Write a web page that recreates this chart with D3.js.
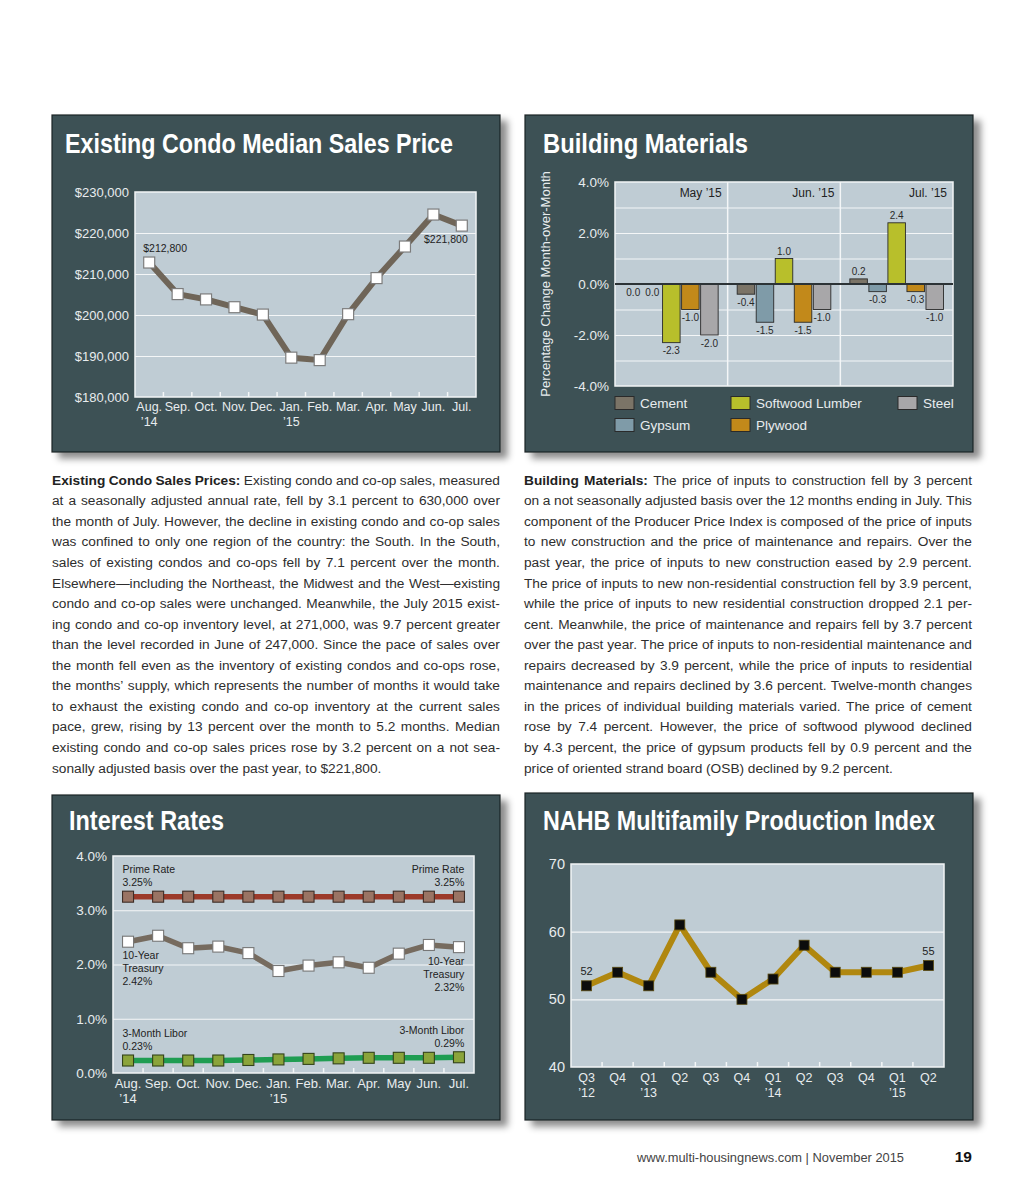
<!DOCTYPE html>
<html><head><meta charset="utf-8">
<script src="https://cdn.jsdelivr.net/npm/d3@7"></script>
<style>
body{margin:0;background:#fff;width:1024px;height:1195px;overflow:hidden;position:relative;font-family:"Liberation Sans",Arial,Helvetica,sans-serif;}
svg{position:absolute;left:0;top:0;}
.para{position:absolute;width:448px;font-size:13.7px;color:#2e2e2e;}
.ln{display:flex;justify-content:space-between;height:20.57px;line-height:20.57px;white-space:nowrap;}
.ln.last{justify-content:flex-start;}
.ln.last span{margin-right:0.27em;}
.ln b{font-weight:bold;color:#222;}
</style></head><body>
<svg id="chart" width="1024" height="1195"></svg>
<div id="pl" class="para" style="left:52px;top:470.7px"></div>
<div id="pr" class="para" style="left:524px;top:470.7px"></div>
<script>
// ---------- DATA ----------
const months = ["Aug.","Sep.","Oct.","Nov.","Dec.","Jan.","Feb.","Mar.","Apr.","May","Jun.","Jul."];
const monthYears = ["’14","","","","","’15","","","","","",""];
const condoPrice = [212800,205100,203800,201900,200100,189600,189000,200200,209000,216700,224500,221800];
const condoTicks = [180000,190000,200000,210000,220000,230000];

const bmGroups = ["May ’15","Jun. ’15","Jul. ’15"];
const bmSeries = ["Cement","Gypsum","Softwood Lumber","Plywood","Steel"];
const cement   = [0.0,-0.4, 0.2];
const gypsum   = [0.0,-1.5,-0.3];
const softwood = [-2.3, 1.0, 2.4];
const plywood  = [-1.0,-1.5,-0.3];
const steel    = [-2.0,-1.0,-1.0];
const bmTicks = [-4,-2,0,2,4];

const primeRate  = [3.25,3.25,3.25,3.25,3.25,3.25,3.25,3.25,3.25,3.25,3.25,3.25];
const treasury10 = [2.42,2.53,2.30,2.33,2.21,1.88,1.98,2.04,1.94,2.20,2.36,2.32];
const libor3m    = [0.23,0.23,0.23,0.23,0.24,0.25,0.26,0.27,0.28,0.28,0.28,0.29];
const rateTicks = [0,1,2,3,4];

const quarters = ["Q3","Q4","Q1","Q2","Q3","Q4","Q1","Q2","Q3","Q4","Q1","Q2"];
const quarterYears = ["’12","","’13","","","","’14","","","","’15",""];
const mfpi = [52,54,52,61,54,50,53,58,54,54,54,55];
const mfpiTicks = [40,50,60,70];

const leftLead = "Existing Condo Sales Prices:";
const leftLines = [
"Existing condo and co-op sales, measured",
"at a seasonally adjusted annual rate, fell by 3.1 percent to 630,000 over",
"the month of July. However, the decline in existing condo and co-op sales",
"was confined to only one region of the country: the South. In the South,",
"sales of existing condos and co-ops fell by 7.1 percent over the month.",
"Elsewhere—including the Northeast, the Midwest and the West—existing",
"condo and co-op sales were unchanged. Meanwhile, the July 2015 exist-",
"ing condo and co-op inventory level, at 271,000, was 9.7 percent greater",
"than the level recorded in June of 247,000. Since the pace of sales over",
"the month fell even as the inventory of existing condos and co-ops rose,",
"the months’ supply, which represents the number of months it would take",
"to exhaust the existing condo and co-op inventory at the current sales",
"pace, grew, rising by 13 percent over the month to 5.2 months. Median",
"existing condo and co-op sales prices rose by 3.2 percent on a not sea-",
"sonally adjusted basis over the past year, to $221,800."];
const rightLead = "Building Materials:";
const rightLines = [
"The price of inputs to construction fell by 3 percent",
"on a not seasonally adjusted basis over the 12 months ending in July. This",
"component of the Producer Price Index is composed of the price of inputs",
"to new construction and the price of maintenance and repairs. Over the",
"past year, the price of inputs to new construction eased by 2.9 percent.",
"The price of inputs to new non-residential construction fell by 3.9 percent,",
"while the price of inputs to new residential construction dropped 2.1 per-",
"cent. Meanwhile, the price of maintenance and repairs fell by 3.7 percent",
"over the past year. The price of inputs to non-residential maintenance and",
"repairs decreased by 3.9 percent, while the price of inputs to residential",
"maintenance and repairs declined by 3.6 percent. Twelve-month changes",
"in the prices of individual building materials varied. The price of cement",
"rose by 7.4 percent. However, the price of softwood plywood declined",
"by 4.3 percent, the price of gypsum products fell by 0.9 percent and the",
"price of oriented strand board (OSB) declined by 9.2 percent."];

// ---------- STYLE ----------
const FONT = "'Liberation Sans', Arial, Helvetica, sans-serif";
const PANEL_FILL = "#3e5155";
const PLOT_FILL = "#bfccd4";
const LIGHT = "#e8ecee";
const DARK = "#222";
const bmColors = ["#7b7467","#7f9ba8","#b8bf2b","#c2891a","#a8a7a9"];

const svg = d3.select("#chart");
const defs = svg.append("defs");
const flt = defs.append("filter").attr("id","shadow").attr("x","-5%").attr("y","-5%").attr("width","115%").attr("height","115%");
flt.append("feDropShadow").attr("dx",7).attr("dy",6).attr("stdDeviation",3.5).attr("flood-color","#000").attr("flood-opacity",0.45);

function panel(px,py,pw,ph,title,tx,tb,tw){
  svg.append("rect").attr("x",px).attr("y",py).attr("width",pw).attr("height",ph)
    .attr("fill",PANEL_FILL).attr("stroke","#1b2326").attr("stroke-width",1.2).attr("filter","url(#shadow)");
  svg.append("text").attr("x",tx).attr("y",tb).attr("font-family",FONT).attr("font-weight","bold")
    .attr("font-size",28).attr("fill","#fff").attr("textLength",tw).attr("lengthAdjust","spacingAndGlyphs").text(title);
}
function frame(x0,x1,y0,y1){
  svg.append("rect").attr("x",x0).attr("y",y0).attr("width",x1-x0).attr("height",y1-y0)
    .attr("fill",PLOT_FILL);
}
function border(x0,x1,y0,y1){
  svg.append("rect").attr("x",x0).attr("y",y0).attr("width",x1-x0).attr("height",y1-y0)
    .attr("fill","none").attr("stroke","#f2f5f6").attr("stroke-width",1.5);
}
function grid(y,x0,x1,vals,color,w){
  const g = svg.append("g").attr("transform",`translate(${x0},0)`)
    .call(d3.axisLeft(y).tickValues(vals).tickSize(-(x1-x0)).tickFormat(""));
  g.select(".domain").remove();
  g.selectAll(".tick line").attr("stroke",color||"#f4f6f7").attr("stroke-width",w||1.2);
  return g;
}
function yLabels(y,x0,vals,fmt,size){
  const g = svg.append("g").attr("transform",`translate(${x0},0)`)
    .call(d3.axisLeft(y).tickValues(vals).tickSize(0).tickPadding(6).tickFormat(fmt));
  g.select(".domain").remove();
  g.attr("font-family",FONT).attr("font-size",size).attr("color",LIGHT);
  return g;
}
function xLabels(x,y1,names,years,size,pad,gap){
  const g = svg.append("g").attr("transform",`translate(0,${y1})`)
    .call(d3.axisBottom(x).tickSize(0).tickPadding(pad).tickFormat(i=>names[i]));
  g.select(".domain").remove();
  g.attr("font-family",FONT).attr("font-size",size).attr("color",LIGHT);
  g.selectAll(".tick").append("text").attr("fill",LIGHT).attr("y",pad+gap).attr("dy","0.71em")
    .text(i=>years[i]);
  return g;
}
function bandTicks(x,n,y1){
  svg.append("g").selectAll("line").data(d3.range(1,n)).join("line")
    .attr("x1",i=>x(i)).attr("x2",i=>x(i)).attr("y1",y1).attr("y2",y1-5)
    .attr("stroke","#f4f6f7").attr("stroke-width",1.5);
}

// ---------- PANEL 1: Condo ----------
panel(52,115,448,337,"Existing Condo Median Sales Price",65,152.7,388);
{
  const x0=135,x1=476,y0=192,y1=397;
  frame(x0,x1,y0,y1);
  const x = d3.scaleBand().domain(d3.range(months.length)).range([x0,x1]);
  const y = d3.scaleLinear().domain([180000,230000]).range([y1,y0]);
  const cx = i=>x(i)+x.bandwidth()/2;
  grid(y,x0,x1,condoTicks.slice(1,-1));
  bandTicks(x,months.length,y1);
  border(x0,x1,y0,y1);
  yLabels(y,x0,condoTicks,d3.format("$,"),13);
  xLabels(x,y1,months,monthYears,12.5,5.5,15);
  svg.append("path").datum(condoPrice).attr("fill","none").attr("stroke","#6f6558").attr("stroke-width",6)
    .attr("stroke-linejoin","round")
    .attr("d",d3.line().x((d,i)=>cx(i)).y(d=>y(d)));
  svg.append("g").selectAll("rect").data(condoPrice).join("rect")
    .attr("x",(d,i)=>cx(i)-5.5).attr("y",d=>y(d)-5.5).attr("width",11).attr("height",11)
    .attr("fill","#fff").attr("stroke","#7d7d7d").attr("stroke-width",1.2);
  const fmt = d3.format("$,");
  const n = condoPrice.length-1;
  svg.append("text").attr("x",cx(0)-6).attr("y",y(condoPrice[0])-10.5).attr("font-family",FONT).attr("font-size",10.5)
    .attr("fill",DARK).text(fmt(condoPrice[0]));
  svg.append("text").attr("x",cx(n)+6).attr("y",y(condoPrice[n])+17.5).attr("text-anchor","end").attr("font-family",FONT).attr("font-size",10.5)
    .attr("fill",DARK).text(fmt(condoPrice[n]));
}

// ---------- PANEL 2: Building Materials ----------
panel(525,115,448,337,"Building Materials",543,153,205);
{
  const x0=615,x1=953,y0=182,y1=386;
  frame(x0,x1,y0,y1);
  const xg = d3.scaleBand().domain(d3.range(bmGroups.length)).range([x0,x1]);
  const xs = d3.scaleBand().domain(d3.range(bmSeries.length)).range([0,xg.bandwidth()]).paddingInner(0.08).paddingOuter(0.5);
  const y = d3.scaleLinear().domain([-4,4]).range([y1,y0]);
  grid(y,x0,x1,[-3,-2,-1,1,2,3]);
  svg.append("g").selectAll("line").data(d3.range(1,bmGroups.length)).join("line")
    .attr("x1",i=>xg(i)).attr("x2",i=>xg(i)).attr("y1",y0).attr("y2",y1)
    .attr("stroke","#f4f6f7").attr("stroke-width",1.5);
  border(x0,x1,y0,y1);
  const seriesVals = [cement,gypsum,softwood,plywood,steel];
  const cells = [];
  seriesVals.forEach((vals,s)=>vals.forEach((v,gI)=>cells.push({s,g:gI,v})));
  const bars = svg.append("g");
  bars.selectAll("rect").data(cells.filter(c=>c.v!==0)).join("rect")
    .attr("x",c=>xg(c.g)+xs(c.s)).attr("width",xs.bandwidth())
    .attr("y",c=>y(Math.max(0,c.v))).attr("height",c=>Math.abs(y(c.v)-y(0)))
    .attr("fill",c=>bmColors[c.s]).attr("stroke","#2a2a2a").attr("stroke-width",0.9);
  svg.append("line").attr("x1",x0).attr("x2",x1).attr("y1",y(0)).attr("y2",y(0)).attr("stroke","#2c3336").attr("stroke-width",2);
  svg.append("g").selectAll("text").data(cells).join("text")
    .attr("x",c=>xg(c.g)+xs(c.s)+xs.bandwidth()/2)
    .attr("y",c=>c.v>0 ? y(c.v)-4 : y(c.v)+11.5)
    .attr("text-anchor","middle").attr("font-family",FONT).attr("font-size",10).attr("fill","#2a2a2a")
    .text(c=>c.v.toFixed(1));
  svg.append("g").selectAll("text").data(bmGroups).join("text")
    .attr("x",(d,i)=>xg(i)+xg.bandwidth()-6).attr("y",197)
    .attr("text-anchor","end").attr("font-family",FONT).attr("font-size",12).attr("fill",DARK).text(d=>d);
  yLabels(y,x0,bmTicks,v=>v.toFixed(1)+"%",13.5);
  svg.append("text").attr("transform",`translate(550,${(y0+y1)/2}) rotate(-90)`).attr("text-anchor","middle")
    .attr("font-family",FONT).attr("font-size",13).attr("fill",LIGHT).text("Percentage Change Month-over-Month");
  // legend
  const colX = [615,731,898], rowY = [403,425];
  const lg = svg.append("g").selectAll("g").data(bmSeries).join("g")
    .attr("transform",(d,i)=>`translate(${colX[Math.floor(i/2)]},${rowY[i%2]})`);
  lg.append("rect").attr("x",0).attr("y",-6.5).attr("width",19).attr("height",13)
    .attr("fill",(d,i)=>bmColors[i]).attr("stroke","#2a2a2a").attr("stroke-width",1);
  lg.append("text").attr("x",25).attr("y",5).attr("font-family",FONT).attr("font-size",13.5).attr("fill",LIGHT).text(d=>d);
}

// ---------- PANEL 3: Interest Rates ----------
panel(52,795,448,325,"Interest Rates",69,830,155);
{
  const x0=113,x1=474,y0=856,y1=1073;
  frame(x0,x1,y0,y1);
  const x = d3.scaleBand().domain(d3.range(months.length)).range([x0,x1]);
  const y = d3.scaleLinear().domain([0,4]).range([y1,y0]);
  const cx = i=>x(i)+x.bandwidth()/2;
  grid(y,x0,x1,[1,2,3]);
  bandTicks(x,months.length,y1);
  border(x0,x1,y0,y1);
  yLabels(y,x0,rateTicks,v=>v.toFixed(1)+"%",13.5);
  xLabels(x,y1,months,monthYears,13,6,14.5);
  const series = [
    {v:primeRate, line:"#9c3a2a", fill:"#9a7464", mk:"#3e2d26", name:["Prime Rate"], below:false},
    {v:treasury10, line:"#766b5f", fill:"#ffffff", mk:"#777777", name:["10-Year","Treasury"], below:true},
    {v:libor3m, line:"#1f9d52", fill:"#8ba43a", mk:"#33441a", name:["3-Month Libor"], below:false}
  ];
  const ln = d3.line().x((d,i)=>cx(i)).y(d=>y(d));
  series.forEach(s=>{
    svg.append("path").datum(s.v).attr("fill","none").attr("stroke",s.line).attr("stroke-width",5.5)
      .attr("stroke-linejoin","round").attr("d",ln);
    svg.append("g").selectAll("rect").data(s.v).join("rect")
      .attr("x",(d,i)=>cx(i)-5.5).attr("y",d=>y(d)-5.5).attr("width",11).attr("height",11)
      .attr("fill",s.fill).attr("stroke",s.mk).attr("stroke-width",1.1);
    const n = s.v.length-1;
    [[0,x0+9.5,"start"],[n,x1-9.7,"end"]].forEach(([idx,lx,anchor])=>{
      const lines = s.name.concat([s.v[idx].toFixed(2)+"%"]);
      const base = s.below ? y(s.v[idx])+17.5 : y(s.v[idx])-10.5-13*(lines.length-1);
      svg.append("g").selectAll("text").data(lines).join("text")
        .attr("x",lx).attr("y",(d,k)=>base+k*13).attr("text-anchor",anchor)
        .attr("font-family",FONT).attr("font-size",10.5).attr("fill",DARK).text(d=>d);
    });
  });
}

// ---------- PANEL 4: NAHB MPI ----------
panel(525,793,448,327,"NAHB Multifamily Production Index",543,830,392);
{
  const x0=571,x1=944,y0=864,y1=1067;
  frame(x0,x1,y0,y1);
  const x = d3.scaleBand().domain(d3.range(quarters.length)).range([x0,x1]);
  const y = d3.scaleLinear().domain([40,70]).range([y1,y0]);
  const cx = i=>x(i)+x.bandwidth()/2;
  grid(y,x0,x1,[50,60]);
  bandTicks(x,quarters.length,y1);
  border(x0,x1,y0,y1);
  yLabels(y,x0,mfpiTicks,d3.format("d"),14.5);
  xLabels(x,y1,quarters,quarterYears,12.5,6.5,14.5);
  svg.append("path").datum(mfpi).attr("fill","none").attr("stroke","#b0870f").attr("stroke-width",6)
    .attr("stroke-linejoin","round").attr("d",d3.line().x((d,i)=>cx(i)).y(d=>y(d)));
  svg.append("g").selectAll("rect").data(mfpi).join("rect")
    .attr("x",(d,i)=>cx(i)-5).attr("y",d=>y(d)-5).attr("width",10).attr("height",10)
    .attr("fill","#0c0c0c").attr("stroke","#5a4a10").attr("stroke-width",0.8);
  const n = mfpi.length-1;
  svg.append("g").selectAll("text").data([0,n]).join("text")
    .attr("x",i=>cx(i)).attr("y",i=>y(mfpi[i])-11).attr("text-anchor","middle")
    .attr("font-family",FONT).attr("font-size",11).attr("fill",DARK).text(i=>mfpi[i]);
}

// ---------- FOOTER ----------
svg.append("text").attr("x",637).attr("y",1161.5).attr("font-family",FONT).attr("font-size",12.5).attr("fill","#444")
  .attr("textLength",267).attr("lengthAdjust","spacingAndGlyphs").text("www.multi-housingnews.com  | November 2015");
svg.append("text").attr("x",972).attr("y",1162).attr("text-anchor","end").attr("font-family",FONT).attr("font-size",15.5)
  .attr("font-weight","bold").attr("fill","#111").text("19");

// ---------- PARAGRAPHS ----------
function para(sel, lead, lines){
  const box = d3.select(sel);
  lines.forEach((ln,i)=>{
    const row = box.append("div").attr("class","ln"+(i===lines.length-1?" last":""));
    if(i===0){ lead.split(" ").forEach(w=>row.append("span").append("b").text(w)); }
    ln.split(" ").forEach(w=>row.append("span").text(w));
  });
  box.selectAll(".ln").each(function(){
    const row = this;
    if(row.classList.contains("last")) return;
    const spans = Array.from(row.children);
    let sum=0, chars=0;
    spans.forEach(s=>{sum+=s.getBoundingClientRect().width; chars+=s.textContent.length;});
    const need = sum + (spans.length-1)*2.8;
    if(need>448){ row.style.letterSpacing = ((448-need)/chars)+"px"; }
  });
}
para("#pl",leftLead,leftLines);
para("#pr",rightLead,rightLines);
</script>
</body></html>
